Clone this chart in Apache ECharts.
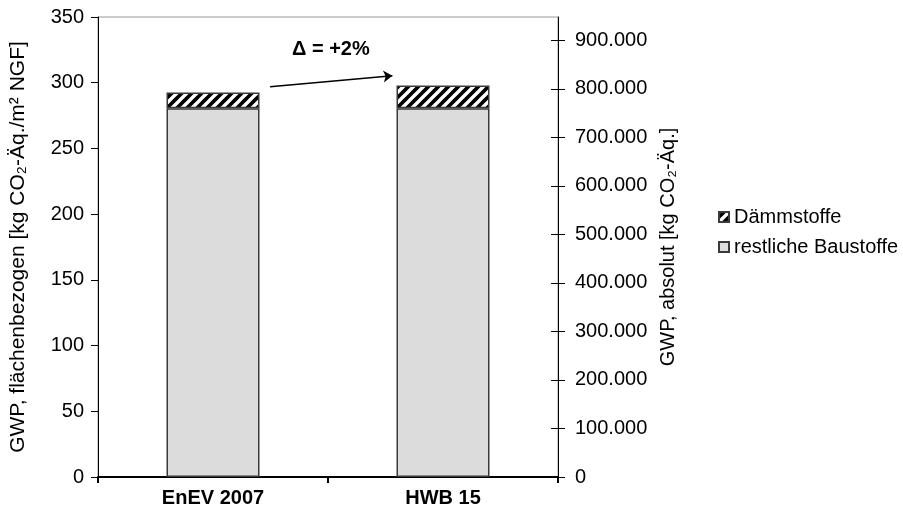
<!DOCTYPE html>
<html>
<head>
<meta charset="utf-8">
<script src="https://cdn.jsdelivr.net/npm/echarts@6/dist/echarts.min.js"></script>
<style>
  html, body { margin: 0; padding: 0; background: #fff; }
  #chart { width: 903px; height: 520px; }
</style>
</head>
<body>
<div id="chart"></div>
<script>
// Variants compared
const categories = ['EnEV 2007', 'HWB 15'];
// GWP per floor area [kg CO2-eq./m² NGF]
const restlicheBaustoffe = [280.5, 280.5];
const daemmstoffe = [12, 17.3];
// Secondary axis (absolute GWP) ticks
const absoluteTicks = [0, 100000, 200000, 300000, 400000, 500000, 600000, 700000, 800000, 900000];
const absoluteMax = 948000;
// Change arrow between the two totals, drawn on a 0..2 value x scale
const arrowFrom = [0.748, 296.9];
const arrowTo = [1.28, 305.3];
const deltaText = 'Δ = +2%';

const FONT = "'Liberation Sans', Arial, sans-serif";
const FS = 20;

function hatchPattern() {
  const s = 10;
  const c = document.createElement('canvas');
  c.width = s; c.height = s;
  const g = c.getContext('2d');
  g.fillStyle = '#000';
  g.fillRect(0, 0, s, s);
  g.strokeStyle = '#fff';
  g.lineWidth = 3.4;
  g.beginPath();
  g.moveTo(-s, 2 * s); g.lineTo(2 * s, -s);
  g.moveTo(-2 * s, 2 * s); g.lineTo(s, -s);
  g.moveTo(0, 2 * s); g.lineTo(3 * s, -s);
  g.stroke();
  return { image: c, repeat: 'repeat' };
}

const chart = echarts.init(document.getElementById('chart'), null, { renderer: 'canvas' });

const rightAxisBase = {
  type: 'value',
  position: 'right',
  min: 0,
  max: absoluteMax,
  splitLine: { show: false },
  axisLine: { show: true, lineStyle: { color: '#000', width: 1 } }
};

chart.setOption({
  animation: false,
  textStyle: { fontFamily: FONT },
  grid: {
    left: 97, right: 345, top: 17, bottom: 43,
    show: true, borderColor: '#999', borderWidth: 1, backgroundColor: 'transparent'
  },
  legend: {
    orient: 'vertical',
    left: 713, top: 202,
    itemWidth: 10, itemHeight: 10,
    itemGap: 10,
    icon: 'rect',
    textStyle: { fontFamily: FONT, fontSize: FS, color: '#000' },
    data: ['Dämmstoffe', 'restliche Baustoffe']
  },
  xAxis: [{
    type: 'category',
    data: categories,
    axisLine: { lineStyle: { color: '#000', width: 2 } },
    axisTick: { show: true, length: 6, lineStyle: { color: '#000', width: 2 } },
    axisLabel: { fontFamily: FONT, fontSize: FS, fontWeight: 'bold', color: '#000', margin: 11 }
  }, {
    type: 'value', min: 0, max: 2, show: false
  }],
  yAxis: [{
    type: 'value',
    min: 0, max: 350, interval: 50,
    name: 'GWP, flächenbezogen [kg CO₂-Äq./m² NGF]',
    nameLocation: 'middle',
    nameGap: 69,
    nameTextStyle: { fontFamily: FONT, fontSize: 21, color: '#000' },
    axisLine: { show: true, lineStyle: { color: '#000', width: 1 } },
    axisTick: { show: true, length: 7, lineStyle: { color: '#000' } },
    axisLabel: { fontFamily: FONT, fontSize: FS, color: '#000', margin: 14 },
    splitLine: { show: false }
  }, Object.assign({}, rightAxisBase, {
    name: 'GWP, absolut [kg CO₂-Äq.]',
    nameLocation: 'middle',
    nameGap: 96,
    nameTextStyle: { fontFamily: FONT, fontSize: 20, color: '#000' },
    axisTick: { show: true, length: 7, customValues: absoluteTicks, lineStyle: { color: '#000' } },
    axisLabel: {
      fontFamily: FONT, fontSize: FS, color: '#000', margin: 17,
      customValues: absoluteTicks,
      formatter: v => v === 0 ? '0' : (v / 1000).toFixed(0) + '.000'
    }
  }), Object.assign({}, rightAxisBase, {
    axisLine: { show: false },
    axisTick: { show: true, inside: true, length: 7, customValues: absoluteTicks, lineStyle: { color: '#000' } },
    axisLabel: { show: false }
  })],
  series: [{
    name: 'restliche Baustoffe',
    type: 'bar',
    stack: 'gwp',
    barWidth: 93,
    data: restlicheBaustoffe,
    itemStyle: { color: '#dcdcdc', borderColor: '#3a3a3a', borderWidth: 1.5 }
  }, {
    name: 'Dämmstoffe',
    type: 'bar',
    stack: 'gwp',
    barWidth: 93,
    data: daemmstoffe,
    itemStyle: { color: hatchPattern(), borderColor: '#3a3a3a', borderWidth: 1.5 }
  }, {
    type: 'lines',
    coordinateSystem: 'cartesian2d',
    xAxisIndex: 1,
    yAxisIndex: 0,
    symbol: ['none', 'arrow'],
    symbolSize: 9,
    lineStyle: { color: '#000', width: 1.5, opacity: 1 },
    data: [{ coords: [arrowFrom, arrowTo] }],
    silent: true
  }],
  graphic: [{
    type: 'text',
    left: 292,
    top: 39,
    style: { text: deltaText, font: "bold 20px 'Liberation Sans', Arial, sans-serif", fill: '#000' }
  }]
});
</script>
</body>
</html>
